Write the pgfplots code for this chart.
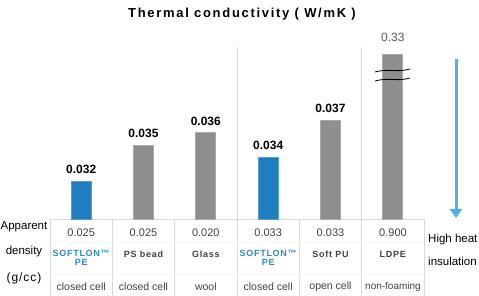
\documentclass[border=0pt]{standalone}
\usepackage{pgfplots}
\pgfplotsset{compat=1.18}
\usepackage{pgfplotstable}
\usepackage{fontspec}
\setmainfont{Liberation Sans}
\newfontfamily\spaced[LetterSpace=8]{Liberation Sans}
\newfontfamily\widespaced[LetterSpace=13]{Liberation Sans}
\usetikzlibrary{arrows.meta}
\definecolor{barblue}{HTML}{1F7DC0}
\definecolor{bargray}{HTML}{8E8E8E}
\definecolor{txtblue}{HTML}{2A87CF}
\definecolor{txtgray}{HTML}{404040}
\definecolor{arrowblue}{HTML}{4BB4E6}
\definecolor{linegray}{HTML}{D9D9D9}

\pgfplotstableread{
x y label
0 0.032 0.032
3 0.034 0.034
}\blueT
\pgfplotstableread{
x y label
1 0.035 0.035
2 0.036 0.036
4 0.037 0.037
}\grayT
\pgfplotstableread{
x y label
5 0.0425 0.33
}\ldpeT

\begin{document}
\begin{tikzpicture}
\useasboundingbox (0pt,0pt) rectangle (479pt,-296pt);
\node[font=\widespaced\bfseries\fontsize{13}{15}\selectfont] at (242pt,-14pt) {Thermal conductivity ( W/mK )};
% separators
\draw[linegray, line width=0.8pt] (237pt,-47pt) -- (237pt,-296pt);
\draw[linegray, line width=0.8pt] (361.7pt,-47pt) -- (361.7pt,-296pt);
% table
\draw[linegray, line width=0.8pt] (50pt,-219.5pt) -- (424pt,-219.5pt);
\foreach \xx in {50,112.3,174.7,299.3,424} {
  \draw[linegray, line width=0.8pt] (\xx pt,-219.5pt) -- (\xx pt,-296pt);
}
\draw[linegray!20, line width=0.6pt] (50pt,-242pt) -- (424pt,-242pt);
\draw[linegray!20, line width=0.6pt] (50pt,-274pt) -- (424pt,-274pt);
\begin{axis}[at={(50pt,-219pt)}, anchor=south west, scale only axis,
  width=374pt, height=179pt, xmin=-0.5, xmax=5.5, ymin=0.0289, ymax=0.04366,
  axis lines=none, clip=false, ybar, bar width=20pt, bar shift=0pt,
  nodes near coords, point meta=explicit symbolic,
  every node near coord/.append style={font=\bfseries\fontsize{12}{14}\selectfont, text=black, yshift=4pt}]
\addplot[fill=barblue, draw=barblue!75!white, line width=0.8pt] table[x=x,y=y,meta=label]{\blueT};
\addplot[fill=bargray, draw=bargray!75!white, line width=0.8pt] table[x=x,y=y,meta=label]{\grayT};
\addplot[fill=bargray, draw=bargray!75!white, line width=0.8pt,
  every node near coord/.append style={font=\fontsize{12}{14}\selectfont, text=black!65, yshift=5pt}] table[x=x,y=y,meta=label]{\ldpeT};
\end{axis}
% break symbol
\draw[black, line width=0.8pt] (375pt,-72pt) .. controls (390pt,-68pt) and (396pt,-73pt) .. (410pt,-69pt);
\draw[black, line width=0.8pt] (375pt,-81pt) .. controls (390pt,-77pt) and (396pt,-82pt) .. (410pt,-78pt);
% arrow
\draw[arrowblue, line width=3pt, -{Triangle[width=12pt,length=9pt]}] (456pt,-59pt) -- (456pt,-218pt);
% table text
\foreach \i/\d/\t in {0/0.025/closed cell,1/0.025/closed cell,2/0.020/wool,3/0.033/closed cell,4/0.033/open cell} {
  \node[font=\fontsize{11}{13}\selectfont, text=txtgray] at (81.17pt+62.33pt*\i,-233pt) {\d};
  \node[font=\fontsize{10.5}{12}\selectfont, text=txtgray] at (81.17pt+62.33pt*\i,-287pt) {\t};
}
\node[font=\fontsize{11}{13}\selectfont, text=txtgray] at (393pt,-233pt) {0.900};
\node[font=\fontsize{10}{12}\selectfont, text=txtgray] at (393pt,-287pt) {non-foaming};
\foreach \i/\n in {1/PS bead,2/Glass,4/Soft PU,5/LDPE} {
  \node[font=\spaced\bfseries\fontsize{9}{10}\selectfont, text=txtgray] at (81.17pt+62.33pt*\i,-254pt) {\n};
}
\foreach \i in {0,3} {
  \node[font=\spaced\bfseries\fontsize{9}{9}\selectfont, text=txtblue, align=center] at (81.17pt+62.33pt*\i,-257.5pt) {SOFTLON™\\PE};
}
% left labels
\node[font=\fontsize{11.5}{13}\selectfont] at (24pt,-227pt) {Apparent};
\node[font=\fontsize{11.5}{13}\selectfont] at (24pt,-252pt) {density};
\node[font=\spaced\fontsize{12}{14}\selectfont] at (24pt,-278pt) {(g/cc)};
% right labels
\node[font=\fontsize{11.5}{13}\selectfont, anchor=west, inner sep=0pt] at (428pt,-240pt) {High heat};
\node[font=\fontsize{11.5}{13}\selectfont, anchor=west, inner sep=0pt] at (428pt,-261pt) {insulation};
\end{tikzpicture}
\end{document}
